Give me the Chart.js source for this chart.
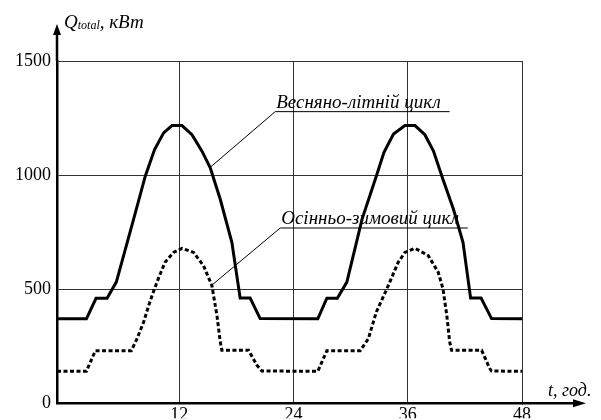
<!DOCTYPE html>
<html>
<head>
<meta charset="utf-8">
<script src="https://cdn.jsdelivr.net/npm/chart.js@4.4.1/dist/chart.umd.min.js"></script>
<style>
  html, body { margin: 0; padding: 0; background: #fff; }
  #wrap { width: 601px; height: 420px; }
</style>
</head>
<body>
<div id="wrap"><canvas id="myChart" width="601" height="420"></canvas></div>
<script>
// values (t in hours, Q in kW)
const hourTicks = [12, 24, 36, 48];
const powerTicks = [0, 500, 1000, 1500];
const xMin = -0.85;
const xMax = 48;

// Весняно-літній цикл (solid)
const springHours = [-0.85, 2.24, 3.25, 4.41, 5.38, 7.2, 8.43, 9.4, 10.35, 11.23, 12.28, 13.33, 14.38, 15.25, 16.3, 17.52, 18.39, 19.44, 20.49,
    26.55, 27.5, 28.6, 29.6, 31.2, 32.7, 33.5, 34.5, 35.7, 36.76, 37.8, 38.7, 39.7, 40.8, 41.8, 42.6, 43.7, 44.8, 48];
const springValues = [370, 370, 460, 460, 531, 807, 996, 1112, 1185, 1217, 1217, 1177, 1105, 1032, 894, 705, 461, 461, 371,
    370, 460, 460, 531, 807, 996, 1100, 1180, 1217, 1217, 1177, 1105, 981, 850, 705, 461, 461, 371, 370];

// Осінньо-зимовий цикл (dotted)
const autumnHours = [-0.85, 2.24, 3.18, 6.96, 7.56, 8.25, 8.95, 9.65, 10.5, 11.4, 12.28, 13.5, 14.54, 15.42, 15.95, 16.3, 16.47, 19.27, 20.15, 20.67,
    26.55, 27.5, 31.0, 31.86, 32.7, 33.8, 35.0, 35.7, 36.76, 38.15, 39.2, 39.7, 40.1, 40.4, 40.6, 43.76, 44.6, 44.8, 48];
const autumnValues = [140, 140, 230, 230, 283, 356, 450, 531, 618, 661, 679, 661, 603, 516, 385, 269, 232, 232, 167, 141,
    140, 230, 230, 283, 400, 501, 618, 661, 679, 647, 574, 501, 385, 269, 232, 232, 153, 141, 140];

// labels with their leader lines: [text, lineStartT, lineEndT, lineQ, pointT, pointQ]
const springLabel = ["Весняно-літній цикл", 22.07, 40.4, 1278, 15.25, 1034];
const autumnLabel = ["Осінньо-зимовий цикл", 22.6, 42.3, 768, 15.46, 519];

const serif = '"Liberation Serif", "Times New Roman", serif';

const toPoints = (xs, ys) => xs.map((x, i) => ({ x: x, y: ys[i] }));

// arrows, axis titles and the two notes
const extrasPlugin = {
    id: 'extras',
    afterDraw: (chart) => {
        const ctx = chart.ctx;
        const area = chart.chartArea;
        const xs = chart.scales.x;
        const ys = chart.scales.y;
        ctx.save();
        ctx.strokeStyle = '#000';
        ctx.fillStyle = '#000';

        // y axis arrow
        ctx.lineWidth = 2.5;
        ctx.beginPath();
        ctx.moveTo(area.left, area.top);
        ctx.lineTo(area.left, 32);
        ctx.stroke();
        ctx.beginPath();
        ctx.moveTo(area.left, 24);
        ctx.lineTo(area.left - 4, 35);
        ctx.lineTo(area.left + 4, 35);
        ctx.closePath();
        ctx.fill();

        // x axis arrow
        ctx.beginPath();
        ctx.moveTo(area.right, area.bottom);
        ctx.lineTo(576, area.bottom);
        ctx.stroke();
        ctx.beginPath();
        ctx.moveTo(586, area.bottom);
        ctx.lineTo(573, area.bottom - 4);
        ctx.lineTo(573, area.bottom + 4);
        ctx.closePath();
        ctx.fill();

        // y title  Q_total, кВт
        let x = area.left + 7;
        ctx.textBaseline = 'alphabetic';
        ctx.textAlign = 'left';
        ctx.font = 'italic 19px ' + serif;
        ctx.fillText('Q', x, 28);
        x += ctx.measureText('Q').width;
        ctx.font = 'italic 12px ' + serif;
        ctx.fillText('total', x, 29);
        x += ctx.measureText('total').width;
        ctx.font = 'italic 19px ' + serif;
        ctx.fillText(', кВт', x, 28);

        // x title
        ctx.font = 'italic 18px ' + serif;
        ctx.fillText('t, год.', 548, 396);

        // notes
        [springLabel, autumnLabel].forEach(lb => {
            const x1 = xs.getPixelForValue(lb[1]);
            const x2 = xs.getPixelForValue(lb[2]);
            const yl = ys.getPixelForValue(lb[3]);
            ctx.lineWidth = 1;
            ctx.beginPath();
            ctx.moveTo(xs.getPixelForValue(lb[4]), ys.getPixelForValue(lb[5]));
            ctx.lineTo(x1, yl);
            ctx.lineTo(x2, yl);
            ctx.stroke();
            ctx.font = 'italic 19px ' + serif;
            ctx.fillText(lb[0], x1 + 1, yl - 4);
        });
        ctx.restore();
    }
};

const ctx = document.getElementById('myChart');

new Chart(ctx, {
    type: 'line',
    data: {
        datasets: [{
            label: 'Весняно-літній цикл',
            data: toPoints(springHours, springValues),
            borderColor: '#000',
            borderWidth: 3,
            pointRadius: 0,
            tension: 0,
            fill: false
        }, {
            label: 'Осінньо-зимовий цикл',
            data: toPoints(autumnHours, autumnValues),
            borderColor: '#000',
            borderWidth: 3,
            borderDash: [4, 2.5],
            pointRadius: 0,
            tension: 0,
            fill: false
        }]
    },
    options: {
        responsive: false,
        animation: false,
        layout: { padding: { top: 61, right: 79, left: 0, bottom: 0 } },
        plugins: {
            legend: { display: false },
            tooltip: { enabled: false }
        },
        scales: {
            x: {
                type: 'linear',
                min: xMin,
                max: xMax,
                afterBuildTicks: (s) => { s.ticks = hourTicks.map(v => ({ value: v })); },
                afterFit: (s) => { s.height = 15; },
                grid: { color: '#333', lineWidth: 1, drawTicks: false },
                border: { display: true, color: '#000', width: 2.5 },
                ticks: { color: '#000', font: { family: serif, size: 18 }, padding: 1, maxRotation: 0, callback: (v) => String(v) }
            },
            y: {
                min: 0,
                max: 1500,
                afterBuildTicks: (s) => { s.ticks = powerTicks.map(v => ({ value: v })); },
                afterFit: (s) => { s.width = 57; },
                grid: { color: '#333', lineWidth: 1, drawTicks: false },
                border: { display: true, color: '#000', width: 2.5 },
                ticks: { color: '#000', font: { family: serif, size: 18 }, padding: 6, callback: (v) => String(v) }
            }
        }
    },
    plugins: [extrasPlugin]
});
</script>
</body>
</html>
